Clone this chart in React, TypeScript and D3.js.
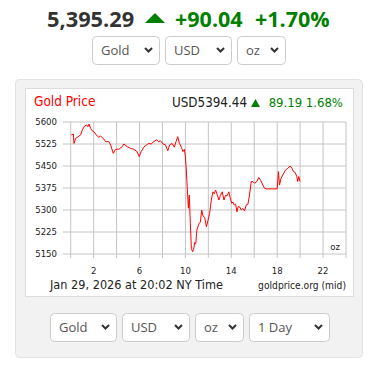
import * as d3 from 'd3';

const W = 376;
const H = 368;

// intraday gold price (NY hours, USD/oz)
const hours = [
  0.05, 0.23, 0.29, 0.43, 0.72, 0.87, 1.01, 1.21, 1.39, 1.5, 1.59, 1.74, 1.88, 2.03, 2.17, 2.32, 2.46,
  2.61, 2.84, 3.04, 3.33, 3.48, 3.71, 3.91, 4.2, 4.49, 4.63, 4.92, 5.21, 5.5, 5.79, 5.97, 6.14, 6.37,
  6.61, 6.81, 7.01, 7.24, 7.48, 7.68, 7.82, 8.05, 8.26, 8.46, 8.63, 8.84, 9.04, 9.18, 9.33, 9.48, 9.65,
  9.79, 9.91, 10.0, 10.08, 10.17, 10.26, 10.34, 10.43, 10.52, 10.63, 10.72, 10.81, 10.9, 11.0, 11.19,
  11.3, 11.42, 11.53, 11.68, 11.83, 11.97, 12.11, 12.26, 12.4, 12.52, 12.63, 12.75, 12.92, 13.05, 13.21,
  13.36, 13.5, 13.62, 13.79, 13.9, 14.03, 14.15, 14.26, 14.38, 14.49, 14.6, 14.72, 14.87, 15.01, 15.16,
  15.3, 15.45, 15.59, 15.74, 15.88, 16.03, 16.23, 16.4, 16.58, 16.75, 16.9, 17.04, 17.91, 18.0, 18.11,
  18.2, 18.34, 18.49, 18.72, 18.92, 19.13, 19.3, 19.42, 19.57, 19.71, 19.79, 19.88, 20.0,
];
const prices = [
  5556, 5559, 5527, 5544, 5552, 5556, 5573, 5586, 5590, 5584, 5593, 5578, 5570, 5567, 5559, 5552, 5548,
  5552, 5544, 5533, 5533, 5522, 5493, 5507, 5507, 5516, 5525, 5516, 5510, 5507, 5499, 5482, 5499, 5514,
  5522, 5527, 5525, 5533, 5539, 5533, 5536, 5525, 5522, 5502, 5522, 5527, 5514, 5533, 5550, 5527, 5514,
  5499, 5507, 5482, 5436, 5368, 5306, 5351, 5255, 5169, 5158, 5166, 5189, 5185, 5232, 5255,
  5258, 5300, 5280, 5275, 5243, 5265, 5289, 5334, 5362, 5355, 5368, 5355, 5334, 5350, 5362,
  5334, 5350, 5348, 5362, 5342, 5323, 5327, 5317, 5320, 5294, 5311, 5311, 5300, 5305, 5297,
  5317, 5320, 5351, 5397, 5397, 5391, 5397, 5411, 5400, 5385, 5374, 5372, 5372, 5372, 5431,
  5385, 5408, 5419, 5436, 5442, 5450, 5442, 5431, 5428, 5414, 5397, 5414, 5397,
];

const yTicks = [5150, 5225, 5300, 5375, 5450, 5525, 5600];
const xGrid = [0, 2, 4, 6, 8, 10, 12, 14, 16, 18, 20, 22, 24];
const xLabels = [2, 6, 10, 14, 18, 22];

const topSelects = [
  { label: 'Gold', x: 92, w: 68 },
  { label: 'USD', x: 165, w: 67 },
  { label: 'oz', x: 237, w: 49 },
];
const bottomSelects = [
  { label: 'Gold', x: 50, w: 67 },
  { label: 'USD', x: 122, w: 68 },
  { label: 'oz', x: 195, w: 49 },
  { label: '1 Day', x: 249, w: 81 },
];

const PLOT = { left: 70.7, right: 346, top: 122, bottom: 254 };
const CHART_FONT = "'DejaVu Sans Condensed', 'DejaVu Sans', sans-serif";
const UI_FONT = "'Open Sans', sans-serif";

const Select = ({ x, y, w, label }: { x: number; y: number; w: number; label: string }) => (
  <g>
    <rect x={x + 0.5} y={y + 0.5} width={w - 1} height={28} rx={4} fill="#fff" stroke="#ccc" />
    <text x={x + 9} y={y + 19} fontFamily={UI_FONT} fontSize={13} fill="#555">
      {label}
    </text>
    <polyline
      points={`${x + w - 15},${y + 12} ${x + w - 11.5},${y + 15.5} ${x + w - 8},${y + 12}`}
      fill="none"
      stroke="#333"
      strokeWidth={2}
    />
  </g>
);

export default function App() {
  const x = d3.scaleLinear().domain([0, 24]).range([PLOT.left, PLOT.right]);
  const y = d3.scaleLinear().domain([5150, 5600]).range([PLOT.bottom, PLOT.top]);
  const line = d3
    .line<number>()
    .x((_, i) => x(hours[i]))
    .y((d) => y(d));

  return (
    <div style={{ position: 'absolute', left: 0, top: 0 }}>
      <svg width={W} height={H} style={{ display: 'block' }}>
        <rect width={W} height={H} fill="#fff" />
        {/* headline quote */}
        <text x={47} y={27} fontFamily={UI_FONT} fontWeight={700} fontSize={21.8} fill="#333">
          5,395.29
        </text>
        <polygon points="145,23 155,13 165,23" fill="#008000" />
        <text x={175} y={27} fontFamily={UI_FONT} fontWeight={700} fontSize={21.5} fill="#008000">
          +90.04
        </text>
        <text x={255} y={27} fontFamily={UI_FONT} fontWeight={700} fontSize={21.5} fill="#008000">
          +1.70%
        </text>
        {topSelects.map((s) => (
          <Select key={s.label} x={s.x} y={36} w={s.w} label={s.label} />
        ))}

        {/* panel */}
        <rect x={15.5} y={79.5} width={347} height={278} rx={4} fill="#f2f2f2" stroke="#e2e2e2" />
        <rect x={25.5} y={88.5} width={328} height={208} fill="#fff" stroke="#dcdcdc" />

        <text x={34} y={106} fontFamily={CHART_FONT} fontSize={13.5} fill="#ff0000">
          Gold Price
        </text>
        <text x={247} y={107} textAnchor="end" fontFamily={CHART_FONT} fontSize={13.3} fill="#222">
          USD5394.44
        </text>
        <polygon points="251,107 255.5,99 260,107" fill="#008000" />
        <text x={343} y={107} textAnchor="end" fontFamily={CHART_FONT} fontSize={13} fill="#008000">
          89.19 1.68%
        </text>

        {/* grid */}
        {yTicks.map((t) => (
          <g key={t}>
            <line x1={PLOT.left - 8} x2={PLOT.right} y1={y(t)} y2={y(t)} stroke="#c4c4c4" />
            <text
              x={57}
              y={y(t)}
              dy="0.35em"
              textAnchor="end"
              fontFamily={CHART_FONT}
              fontSize={9.5}
              fill="#222"
            >
              {t}
            </text>
          </g>
        ))}
        {xGrid.map((t) => (
          <line key={t} x1={x(t)} x2={x(t)} y1={PLOT.top} y2={PLOT.bottom + 4} stroke="#c4c4c4" />
        ))}
        {xLabels.map((t) => (
          <text
            key={t}
            x={x(t)}
            y={274}
            textAnchor="middle"
            fontFamily={CHART_FONT}
            fontSize={9.5}
            fill="#222"
          >
            {t}
          </text>
        ))}
        <text x={340} y={250} textAnchor="end" fontFamily={CHART_FONT} fontSize={9.5} fill="#222">
          oz
        </text>

        <path d={line(prices) ?? ''} fill="none" stroke="#ff0000" strokeWidth={1} />

        <text x={50} y={289} fontFamily={CHART_FONT} fontSize={12.6} fill="#222">
          Jan 29, 2026 at 20:02 NY Time
        </text>
        <text x={346} y={289} textAnchor="end" fontFamily={CHART_FONT} fontSize={10.2} fill="#222">
          goldprice.org (mid)
        </text>

        {bottomSelects.map((s) => (
          <Select key={s.label} x={s.x} y={313} w={s.w} label={s.label} />
        ))}
      </svg>
    </div>
  );
}
